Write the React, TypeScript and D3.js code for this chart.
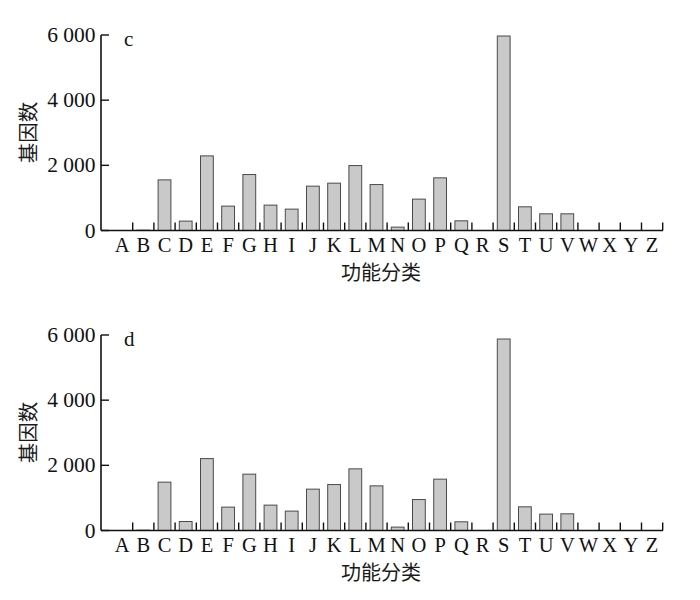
import React from "react";
import * as d3 from "d3";

const categories = "ABCDEFGHIJKLMNOPQRSTUVWXYZ".split("");
const valuesC = [0, 10, 1554, 288, 2290, 748, 1717, 779, 656, 1361, 1453, 1993, 1410, 104, 963, 1616, 297, 0, 5969, 727, 512, 512, 0, 0, 0, 0];
const valuesD = [0, 10, 1484, 276, 2207, 717, 1729, 779, 595, 1269, 1410, 1892, 1370, 104, 950, 1576, 267, 0, 5877, 727, 503, 512, 0, 0, 0, 0];
const yTicks = [0, 2000, 4000, 6000];
const panels = [
  { label: "c", values: valuesC },
  { label: "d", values: valuesD },
];
const xTitle = "功能分类";
const yTitle = "基因数";

const serif = "'Liberation Serif', 'Times New Roman', serif";
const cjk = "'Noto Sans CJK SC', sans-serif";

const axisX0 = 101;
const axisX1 = 663;
const x = d3.scaleBand<string>().domain(categories).range([111.5, 662.7]).paddingInner(0).paddingOuter(0);
const barW = 12.8;
const fmt = (v: number) => d3.format(",")(v).replace(/,/g, " ");

function Panel({ label, values, offset }: { label: string; values: number[]; offset: number }) {
  const y = d3.scaleLinear().domain([0, 6000]).range([230.5 + offset, 35 + offset]);
  const y0 = y(0);
  const boundaries = categories.slice(1).map((c) => x(c) as number).concat([x.range()[1]]);
  return (
    <g>
      {values.map((v, i) => {
        const c = categories[i];
        if (v <= 0) return null;
        const cx = (x(c) as number) + x.bandwidth() / 2;
        return (
          <rect
            key={c}
            x={cx - barW / 2}
            y={y(v)}
            width={barW}
            height={y0 - y(v)}
            fill="#c9c9c9"
            stroke="#4a4a4a"
            strokeWidth={1}
          />
        );
      })}
      <line x1={axisX0} x2={axisX1} y1={y0} y2={y0} stroke="#111" strokeWidth={1.6} />
      <line x1={axisX0} x2={axisX0} y1={y(6000)} y2={y0} stroke="#111" strokeWidth={1.6} />
      {boundaries.map((bx, i) => (
        <line key={"xt" + i} x1={bx} x2={bx} y1={y0} y2={y0 - 8} stroke="#111" strokeWidth={1.4} />
      ))}
      {yTicks.map((t) => (
        <g key={"yt" + t}>
          <line x1={axisX0} x2={axisX0 + 8} y1={y(t)} y2={y(t)} stroke="#111" strokeWidth={1.4} />
          <text x={95.5} y={y(t) + 7} textAnchor="end" fontFamily={serif} fontSize={21.5} fill="#111">
            {fmt(t)}
          </text>
        </g>
      ))}
      {categories.map((c) => (
        <text
          key={"xl" + c}
          x={(x(c) as number) + x.bandwidth() / 2}
          y={252 + offset}
          textAnchor="middle"
          fontFamily={serif}
          fontSize={20.5}
          fill="#111"
        >
          {c}
        </text>
      ))}
      <text x={381} y={279.5 + offset} textAnchor="middle" fontFamily={cjk} fontSize={20} fill="#1a1a1a">
        {xTitle}
      </text>
      <text
        transform={`translate(36,${132.5 + offset}) rotate(-90)`}
        textAnchor="middle"
        fontFamily={cjk}
        fontSize={20.5}
        fill="#1a1a1a"
      >
        {yTitle}
      </text>
      <text x={124} y={46 + offset} fontFamily={serif} fontSize={21} fill="#111">
        {label}
      </text>
    </g>
  );
}

export default function App() {
  return (
    <svg
      width={700}
      height={600}
      viewBox="0 0 700 600"
      style={{ position: "absolute", left: 0, top: 0, background: "#fff" }}
    >
      <rect x={0} y={0} width={700} height={600} fill="#fff" />
      {panels.map((p, i) => (
        <Panel key={p.label} label={p.label} values={p.values} offset={i * 300} />
      ))}
    </svg>
  );
}
